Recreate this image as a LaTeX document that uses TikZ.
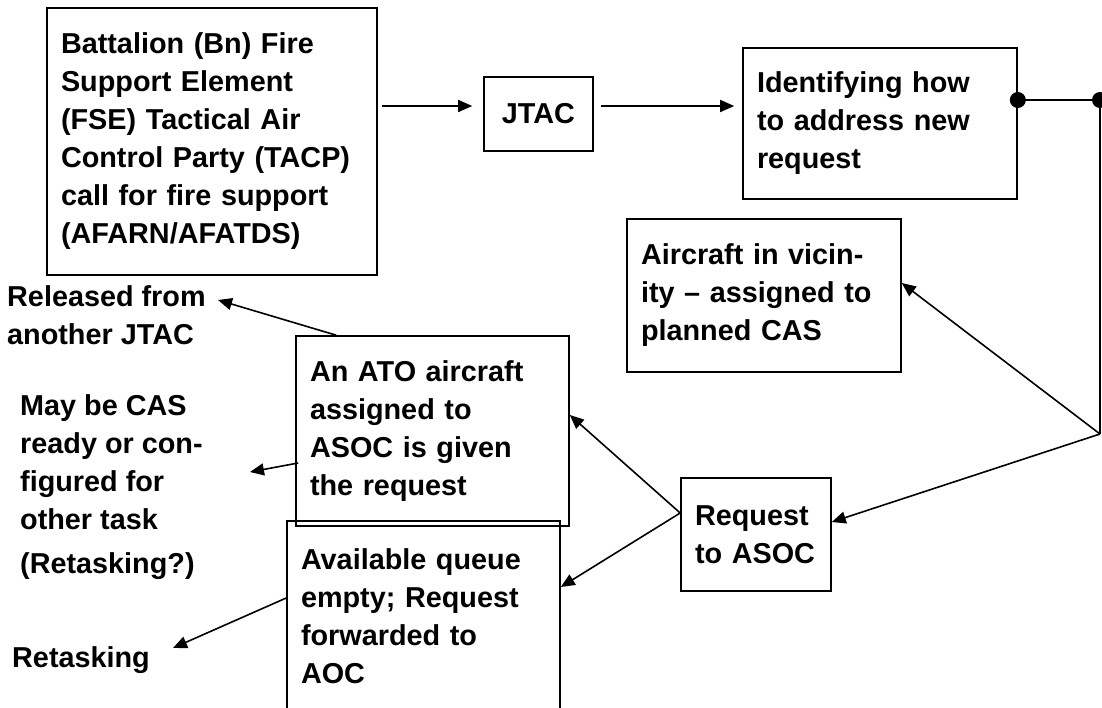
\documentclass[tikz,border=0pt]{standalone}
\usepackage{fontspec}
\setmainfont{Liberation Sans}
\usetikzlibrary{positioning, arrows.meta, calc}

\begin{document}
\begin{tikzpicture}[x=1pt, y=-1pt,
    >={Triangle[length=14pt, width=12pt]},
    boite/.style={rectangle, draw, line width=1.6pt, align=left,
                  inner xsep=14pt, inner ysep=0pt,
                  font=\bfseries\fontsize{28.8}{38}\selectfont},
    etiq/.style={align=left, inner sep=0pt,
                 font=\bfseries\fontsize{28.8}{38}\selectfont},
    fleche/.style={->, line width=1.6pt},
    trait/.style={line width=1.6pt},
    point/.style={circle, fill, inner sep=0pt, minimum size=16pt}]
    \useasboundingbox (0,0) rectangle (1102,708);
    % boites du haut
    \node[boite, text width=302pt, minimum height=267pt] (bn) at (212,141.5)
        {Battalion (Bn) Fire\\Support Element\\(FSE) Tactical Air\\Control Party (TACP)\\call for fire support\\(AFARN/AFATDS)};
    \node[boite, text width=81pt, align=center, minimum height=74pt] (jtac) at (538.5,114) {JTAC};
    \node[boite, text width=246pt, minimum height=151pt] (ident) at (880,123.5)
        {Identifying how\\to address new\\request};
    \draw[fleche] ($(bn.east|-0,106)+(4,0)$) -- ($(jtac.west|-0,106)+(-11,0)$);
    \draw[fleche] ($(jtac.east|-0,106)+(7,0)$) -- ($(ident.west|-0,106)+(-8,0)$);
    % boites du milieu et du bas
    \node[boite, text width=246pt, minimum height=153pt] (vicin) at (764,295.5)
        {Aircraft in vicin-\\ity -- assigned to\\planned CAS};
    \node[boite, text width=245pt, minimum height=190pt] (ato) at (432.5,431)
        {An ATO aircraft\\assigned to\\ASOC is given\\the request};
    \node[boite, text width=245pt, minimum height=191pt] (avail) at (423.5,616.5)
        {Available queue\\empty; Request\\forwarded to\\AOC};
    \node[boite, text width=122pt, minimum height=113pt] (req) at (756,534.5)
        {Request\\to~ASOC};
    % textes libres a gauche
    \node[etiq, anchor=north west] (rel) at (7,285) {Released from\\another JTAC};
    \node[etiq, anchor=north west] (may) at (20,394) {May be CAS\\ready or con-\\figured for\\other task};
    \node[etiq, anchor=base west] (retq) at (20,573) {(Retasking?)};
    \node[etiq, anchor=base west] (ret) at (12,667) {Retasking};
    % embranchement a droite
    \node[point] (pt1) at (ident.east|-0,100) {};
    \node[point] (pt2) at (1100,100) {};
    \coordinate (coin) at (1100,434);
    \draw[trait] (pt1.center) -- (pt2.center) -- (coin);
    \draw[fleche] (coin) -- ([yshift=12.5pt]vicin.east);
    \draw[fleche] (coin) -- ([yshift=12.5pt]req.east);
    % depuis la demande a l'ASOC
    \coordinate (rq) at ([yshift=21.5pt]req.west);
    \draw[fleche] (rq) -- ([yshift=16pt]ato.east);
    \draw[fleche] (rq) -- ([yshift=29.5pt]avail.east);
    % vers les textes de gauche
    \coordinate (tRel) at (218,300);
    \coordinate (tMay) at (250,472);
    \coordinate (tRet) at (173,648);
    \draw[fleche] ($(ato.north west)+(41,0)$) -- (tRel);
    \draw[fleche] ($(ato.west)+(3,32)$) -- (tMay);
    \draw[fleche] ($(avail.west)+(0,-18.5)$) -- (tRet);
\end{tikzpicture}
\end{document}
